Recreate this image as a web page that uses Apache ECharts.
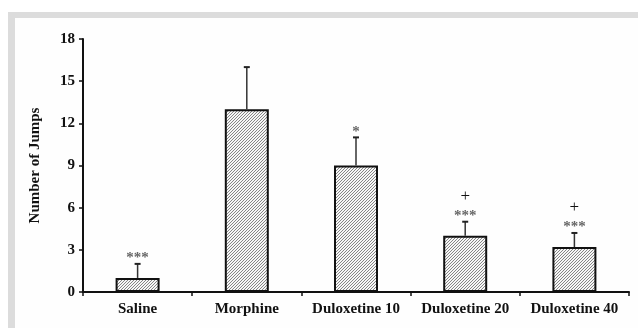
<!DOCTYPE html>
<html>
<head>
<meta charset="utf-8">
<script src="https://cdn.jsdelivr.net/npm/echarts@6/dist/echarts.min.js"></script>
<style>
html, body { margin: 0; padding: 0; background: #fff; }
#main { width: 638px; height: 328px; }
</style>
</head>
<body>
<div id="main"></div>
<script>
// data
var groups = ['Saline', 'Morphine', 'Duloxetine 10', 'Duloxetine 20', 'Duloxetine 40'];
var means = [1, 13, 9, 4, 3.2];
var errUp = [1, 3, 2, 1, 1];
var stars = ['***', '', '*', '***', '***'];
var plusMarks = ['', '', '', '+', '+'];
var yMax = 18, yStep = 3;

var serif = '"Liberation Serif", "Times New Roman", serif';

// fine diagonal hatch used for the bars
function hatch() {
	var c = document.createElement('canvas');
	c.width = 3; c.height = 3;
	var ctx = c.getContext('2d');
	ctx.fillStyle = '#f6f6f6';
	ctx.fillRect(0, 0, 3, 3);
	ctx.fillStyle = '#858585';
	ctx.fillRect(2, 0, 1, 1);
	ctx.fillRect(1, 1, 1, 1);
	ctx.fillRect(0, 2, 1, 1);
	return c;
}

var errData = [];
for (var i = 0; i < groups.length; i++) {
	errData.push([i, means[i], means[i] + errUp[i], stars[i], plusMarks[i]]);
}

var myChart = echarts.init(document.getElementById('main'));
var option = {
	animation: false,
	graphic: [
		{ type: 'rect', z: -10, silent: true, shape: { x: 8, y: 12, width: 640, height: 330 }, style: { fill: '#dcdcdc' } },
		{ type: 'rect', z: -9, silent: true, shape: { x: 15, y: 18, width: 640, height: 330 }, style: { fill: '#fefefe' } }
	],
	grid: { left: 83, right: 9, top: 39, bottom: 36 },
	xAxis: {
		type: 'category',
		data: groups,
		axisLine: { lineStyle: { color: '#111', width: 2 } },
		axisTick: { show: true, length: 4, lineStyle: { color: '#111', width: 1.5 } },
		axisLabel: { interval: 0, color: '#111', fontFamily: serif, fontWeight: 'bold', fontSize: 15, margin: 10 }
	},
	yAxis: {
		type: 'value',
		min: 0,
		max: yMax,
		interval: yStep,
		name: 'Number of Jumps',
		nameLocation: 'middle',
		nameGap: 40,
		nameTextStyle: { color: '#111', fontFamily: serif, fontWeight: 'bold', fontSize: 15 },
		axisLine: { show: true, lineStyle: { color: '#111', width: 2 } },
		axisTick: { show: true, length: 4, lineStyle: { color: '#111', width: 1.5 } },
		axisLabel: { color: '#111', fontFamily: serif, fontWeight: 'bold', fontSize: 15, margin: 8 },
		splitLine: { show: false }
	},
	series: [{
		type: 'bar',
		data: means,
		barWidth: 44,
		itemStyle: {
			color: { image: hatch(), repeat: 'repeat' },
			borderColor: '#111',
			borderWidth: 2
		}
	}, {
		type: 'custom',
		data: errData,
		z: 3,
		renderItem: function(params, api) {
			var x = api.value(0);
			var lo = api.coord([x, api.value(1)]);
			var hi = api.coord([x, api.value(2)]);
			var st = errData[params.dataIndex][3];
			var pl = errData[params.dataIndex][4];
			return {
				type: 'group',
				children: [{
					type: 'line',
					shape: { x1: lo[0], y1: lo[1], x2: hi[0], y2: hi[1] },
					style: { stroke: '#333', lineWidth: 1.5 }
				}, {
					type: 'line',
					shape: { x1: hi[0] - 3, y1: hi[1], x2: hi[0] + 3, y2: hi[1] },
					style: { stroke: '#222', lineWidth: 2 }
				}, {
					type: 'text',
					x: hi[0], y: hi[1] + 2,
					style: { text: st, fill: '#666', font: 'bold 15px ' + serif, textAlign: 'center', textVerticalAlign: 'bottom' }
				}, {
					type: 'text',
					x: hi[0], y: hi[1] - 25,
					style: { text: pl, fill: '#111', font: '17px ' + serif, textAlign: 'center', textVerticalAlign: 'middle' }
				}]
			};
		}
	}]
};
myChart.setOption(option);
</script>
</body>
</html>
